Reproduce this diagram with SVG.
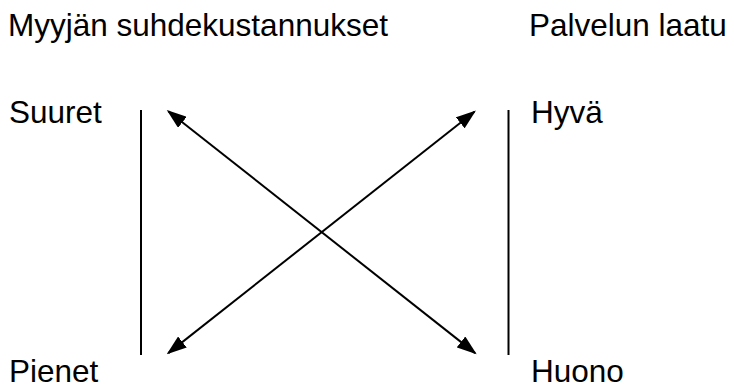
<svg xmlns="http://www.w3.org/2000/svg" width="734" height="389" viewBox="0 0 734 389">
  <style>
    .lbl { font-family: "Liberation Sans", Arial, sans-serif; font-size: 31.5px; fill: #000; }
    .axis { stroke: #000; stroke-width: 2; fill: none; }
    .arrow { stroke: #000; stroke-width: 2; fill: none; marker-start: url(#head); marker-end: url(#head); }
  </style>
  <defs>
    <marker id="head" viewBox="0 0 20 14" markerWidth="20" markerHeight="14" markerUnits="userSpaceOnUse" refX="18" refY="7" orient="auto-start-reverse">
      <path d="M0,0 L20,7 L0,14 z" fill="#000"/>
    </marker>
  </defs>
  <rect width="734" height="389" fill="#fff"/>

  <g id="title-left"><text class="lbl" x="8" y="36">Myyjän suhdekustannukset</text></g>
  <g id="title-right"><text class="lbl" x="529" y="36">Palvelun laatu</text></g>

  <g id="suuret"><text class="lbl" x="9" y="123">Suuret</text></g>
  <g id="pienet"><text class="lbl" x="9" y="382">Pienet</text></g>
  <g id="hyva"><text class="lbl" x="531" y="123">Hyvä</text></g>
  <g id="huono"><text class="lbl" x="531" y="382">Huono</text></g>

  <g id="axis-left"><line class="axis" x1="141" y1="110" x2="141" y2="355"/></g>
  <g id="axis-right"><line class="axis" x1="508.5" y1="110" x2="508.5" y2="355"/></g>

  <g id="connectors">
    <line class="arrow" x1="168.3" y1="111.2" x2="475.1" y2="353.1"/>
    <line class="arrow" x1="474.4" y1="111.7" x2="168.3" y2="353.1"/>
  </g>
</svg>
